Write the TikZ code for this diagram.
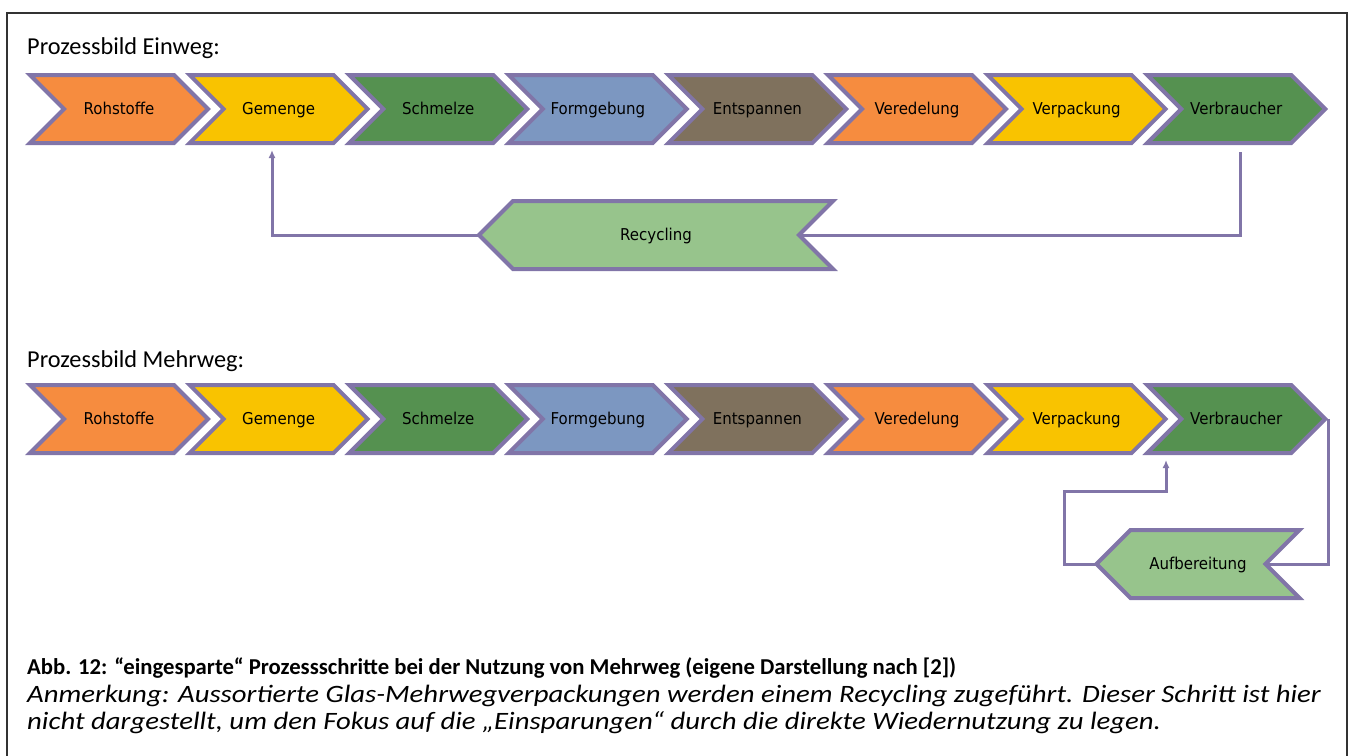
\documentclass[tikz,border=0pt]{standalone}
\usepackage{fontspec}
\setmainfont{Carlito}
\newfontfamily\chevfont[FakeStretch=0.92]{DejaVu Sans}
\newfontfamily\anmfont[FakeStretch=1.15]{Carlito}
\usetikzlibrary{shapes.symbols,arrows.meta,backgrounds}
\definecolor{rand}{HTML}{8175A8}
\definecolor{orng}{HTML}{F68C3F}
\definecolor{gelb}{HTML}{F9C300}
\definecolor{gruen}{HTML}{559150}
\definecolor{blau}{HTML}{7C97C1}
\definecolor{braun}{HTML}{7F715D}
\definecolor{hgruen}{HTML}{97C48C}
\tikzset{
  chevbase/.style={signal, draw=rand, line width=4pt, line join=miter,
    minimum height=68pt, inner sep=0pt, text=black,
    text height=14pt, text depth=3pt,
    font=\chevfont\fontsize{16.3}{18}\selectfont},
  chev/.style={chevbase, signal from=west, signal to=east, minimum width=178pt},
  back/.style={chevbase, signal from=east, signal to=west},
  conn/.style={draw=rand, line width=3pt},
  titel/.style={anchor=base west, inner sep=0pt, font=\fontsize{24.3}{28}\selectfont},
  anm/.style={titel, font=\anmfont\itshape\fontsize{25}{29}\selectfont},
}

\begin{document}
\begin{tikzpicture}[x=1pt,y=-1pt]
  \useasboundingbox (0,0) rectangle (1354,755);
  \draw[line width=1.5pt, draw=black!80] (7,13) rectangle (1347,790);

  \node[titel] (t1) at (27,54) {Prozessbild Einweg:};
  \node[titel] (t2) at (27,367) {Prozessbild Mehrweg:};

  % beide Prozessketten
  \foreach \r/\y in {e/109, m/419}{
    \foreach \txt/\col [count=\i] in {Rohstoffe/orng, Gemenge/gelb, Schmelze/gruen,
        Formgebung/blau, Entspannen/braun, Veredelung/orng, Verpackung/gelb,
        Verbraucher/gruen}{
      \node[chev, fill=\col] (\r\i) at ({119+(\i-1)*159.6},\y) {\txt};
    }
  }

  \node[back, fill=hgruen, minimum width=354pt] (recyc) at (656,235) {Recycling};
  \node[back, fill=hgruen, minimum width=203pt] (aufb) at (1198,564) {Aufbereitung};

  \coordinate (up1) at (272,150);
  \coordinate (dn1) at (1240,152);
  \coordinate (knick) at (1064,491);
  \coordinate (up2) at (1166,460);

  \begin{scope}[on background layer]
    \draw[conn, -{Latex[length=8pt,width=7pt]}] (recyc.center) -| (up1);
    \draw[conn] (dn1) |- (recyc.center);
    \draw[conn] (m8.east) |- (aufb.center);
    \draw[conn, -{Latex[length=8pt,width=7pt]}] (aufb.center) -| (knick) -| (up2);
  \end{scope}

  \node[titel, font=\bfseries\fontsize{22.7}{26}\selectfont] (cap) at (27,674)
    {Abb. 12: “eingesparte“ Prozessschritte bei der Nutzung von Mehrweg (eigene Darstellung nach [2])};
  \node[anm] (anm1) at (27,702)
    {Anmerkung: Aussortierte Glas-Mehrwegverpackungen werden einem Recycling zugeführt. Dieser Schritt ist hier};
  \node[anm] (anm2) at (27,729)
    {nicht dargestellt, um den Fokus auf die „Einsparungen“ durch die direkte Wiedernutzung zu legen.};
\end{tikzpicture}
\end{document}
